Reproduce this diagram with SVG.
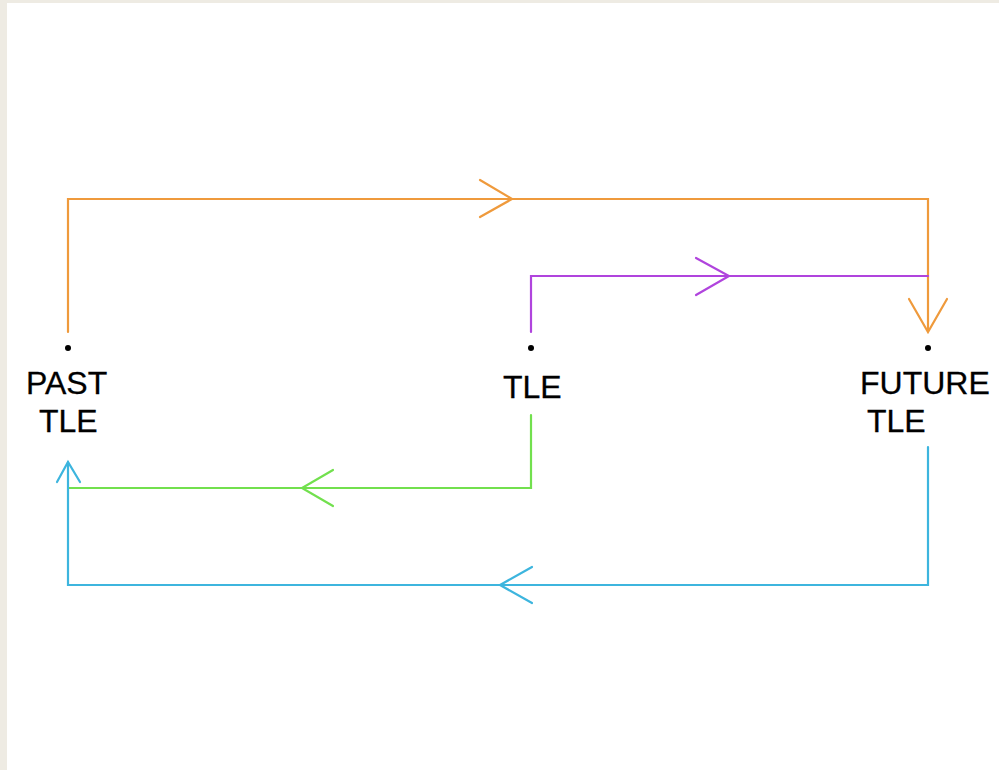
<svg xmlns="http://www.w3.org/2000/svg" width="999" height="770" viewBox="0 0 999 770">
  <style>
    .lbl { font-family: "Liberation Sans", Arial, sans-serif; font-size: 32px; fill: #000; stroke: #000; stroke-width: 0.3; }
    .wire { fill: none; stroke-width: 2.2; stroke-linejoin: miter; stroke-linecap: round; }
    .orange { stroke: #EF9A3C; }
    .purple { stroke: #B044DD; }
    .green { stroke: #72E04E; }
    .cyan { stroke: #3DB5DE; }
    .dot { fill: #000; }
  </style>
  <!-- page margin and canvas -->
  <rect x="0" y="0" width="999" height="770" fill="#EEEBE3"/>
  <rect x="7" y="3" width="992" height="767" fill="#FFFFFF"/>

  <g id="connectors">
    <!-- past to future, across the top -->
    <g id="edge-past-future">
      <polyline class="wire orange" points="68,332 68,199 928,199 928,331"/>
      <polyline class="wire orange" points="480,180 512,199 480,217"/>
      <polyline class="wire orange" points="909,299 928,332 947,299"/>
    </g>
    <!-- present to future -->
    <g id="edge-tle-future">
      <polyline class="wire purple" points="531,332 531,276 928,276"/>
      <polyline class="wire purple" points="696,258 729,276 696,295"/>
    </g>
    <!-- present to past -->
    <g id="edge-tle-past">
      <polyline class="wire green" points="531,415 531,488 68,488"/>
      <polyline class="wire green" points="333,470 302,488 333,506"/>
    </g>
    <!-- future back to past, along the bottom -->
    <g id="edge-future-past">
      <polyline class="wire cyan" points="928,447 928,585 68,585 68,462"/>
      <polyline class="wire cyan" points="532,567 500,585 532,603"/>
      <polyline class="wire cyan" points="57,482 68,462 80,482"/>
    </g>
  </g>

  <g id="past">
    <circle class="dot" cx="68" cy="348" r="3"/>
    <text class="lbl" x="26" y="394">PAST</text>
    <text class="lbl" x="39" y="432">TLE</text>
  </g>

  <g id="tle">
    <circle class="dot" cx="531" cy="348" r="3"/>
    <text class="lbl" x="503" y="398">TLE</text>
  </g>

  <g id="future">
    <circle class="dot" cx="928" cy="348" r="3"/>
    <text class="lbl" x="860" y="394">FUTURE</text>
    <text class="lbl" x="867" y="432">TLE</text>
  </g>
</svg>
